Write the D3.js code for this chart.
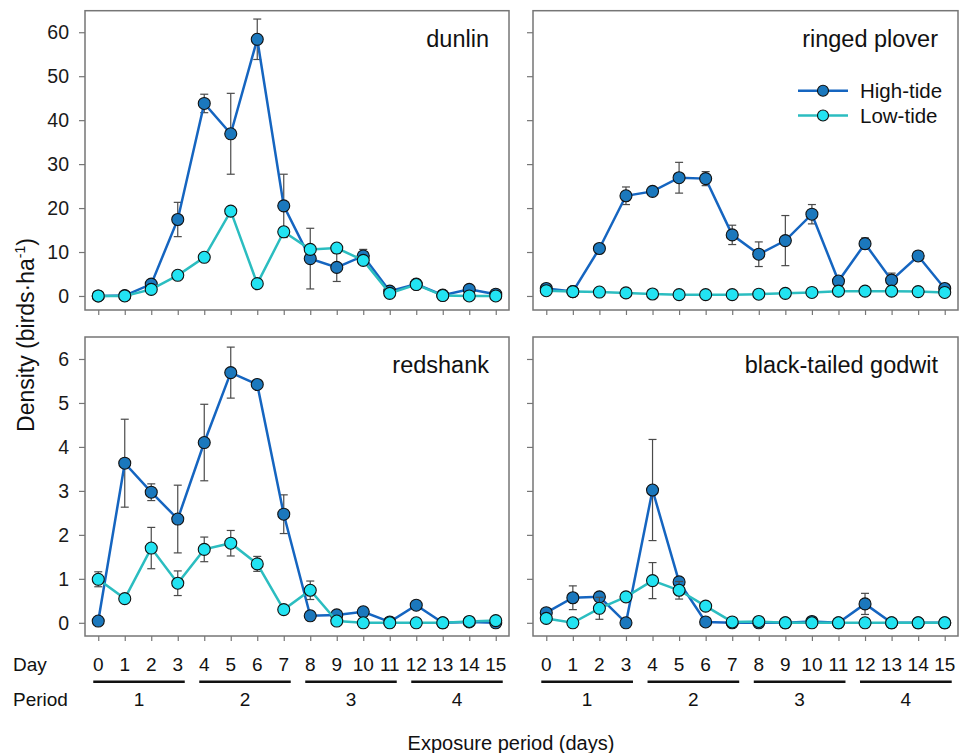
<!DOCTYPE html>
<html>
<head>
<meta charset="utf-8">
<script src="https://cdn.jsdelivr.net/npm/d3@7"></script>
<style>
  body { margin: 0; background: #fff; }
  svg { font-family: Arial, "Liberation Sans", sans-serif; }
</style>
</head>
<body>
<div id="chart"></div>
<script>
// exposure days and periods
const days = [0, 1, 2, 3, 4, 5, 6, 7, 8, 9, 10, 11, 12, 13, 14, 15];
const periodLabels = ["1", "2", "3", "4"];
const periodStart = [0, 4, 8, 12];
const periodEnd = [3, 7, 11, 15];

// dunlin
const dunlinHigh = [0, 0.1, 2.7, 17.4, 43.8, 36.9, 58.4, 20.5, 8.5, 6.5, 9.1, 1.1, 2.7, 0.2, 1.5, 0.4];
const dunlinHighErr = [0, 0, 0.5, 3.9, 2.1, 9.2, 4.6, 7.2, 6.9, 3.2, 1.5, 0.5, 0, 0, 0, 0];
const dunlinLow = [0, 0, 1.5, 4.7, 8.8, 19.3, 2.8, 14.6, 10.6, 10.9, 8.1, 0.6, 2.6, 0.1, 0, 0];
const dunlinLowErr = [0, 0, 0, 0, 0, 0, 0, 1.0, 0, 0, 0, 0, 0, 0, 0, 0];

// ringed plover
const ploverHigh = [1.7, 1.0, 10.8, 22.8, 23.8, 26.9, 26.7, 13.9, 9.5, 12.6, 18.6, 3.4, 11.9, 3.6, 9.1, 1.7];
const ploverHighErr = [0.8, 0, 0, 2.0, 0, 3.5, 1.6, 2.2, 2.8, 5.7, 2.2, 0, 1.3, 1.6, 0, 0];
const ploverLow = [1.2, 1.0, 0.9, 0.7, 0.45, 0.3, 0.3, 0.3, 0.4, 0.6, 0.8, 1.1, 1.1, 1.1, 1.0, 0.8];
const ploverLowErr = [0, 0, 0, 0, 0, 0, 0, 0, 0, 0, 0, 0, 0, 0, 0, 0];

// redshank
const redshankHigh = [0.04, 3.63, 2.97, 2.36, 4.10, 5.69, 5.42, 2.47, 0.16, 0.18, 0.25, 0.02, 0.40, 0, 0.02, 0];
const redshankHighErr = [0, 1.0, 0.19, 0.77, 0.87, 0.58, 0, 0.44, 0.1, 0, 0.1, 0, 0.06, 0, 0, 0];
const redshankLow = [0.99, 0.55, 1.70, 0.90, 1.67, 1.81, 1.34, 0.30, 0.74, 0.04, 0, 0, 0, 0, 0.03, 0.05];
const redshankLowErr = [0.17, 0, 0.47, 0.28, 0.28, 0.29, 0.17, 0, 0.21, 0, 0, 0, 0, 0, 0, 0];

// black-tailed godwit
const godwitHigh = [0.23, 0.57, 0.59, 0, 3.02, 0.93, 0.02, 0, 0, 0, 0.03, 0, 0.43, 0, 0, 0];
const godwitHighErr = [0, 0.27, 0.05, 0, 1.15, 0.1, 0, 0, 0, 0, 0, 0, 0.24, 0, 0, 0];
const godwitLow = [0.10, 0, 0.33, 0.59, 0.96, 0.74, 0.38, 0.02, 0.03, 0, 0, 0, 0, 0, 0, 0];
const godwitLowErr = [0, 0, 0.25, 0, 0.41, 0.2, 0, 0, 0, 0, 0, 0, 0, 0, 0, 0];

const topTicks = [0, 10, 20, 30, 40, 50, 60];
const bottomTicks = [0, 1, 2, 3, 4, 5, 6];

const seriesNames = ["High-tide", "Low-tide"];

const colors = {
    highLine: "#1565c0", highFill: "#1b78bd",
    lowLine: "#2bbdc0", lowFill: "#22e3f2"
};

const width = 960, height = 753;

const svg = d3.select("#chart").append("svg")
    .attr("width", width)
    .attr("height", height);

const colX = [[85, 509], [533, 958]];
const rowY = [[10.7, 310], [337, 636]];

const rows = [
    {domain: [-3.19, 64.9], ticks: topTicks},
    {domain: [-0.30, 6.5], ticks: bottomTicks}
];

const panels = [
    {name: "dunlin", col: 0, row: 0, high: dunlinHigh, highErr: dunlinHighErr, low: dunlinLow, lowErr: dunlinLowErr},
    {name: "ringed plover", col: 1, row: 0, high: ploverHigh, highErr: ploverHighErr, low: ploverLow, lowErr: ploverLowErr, legend: true},
    {name: "redshank", col: 0, row: 1, high: redshankHigh, highErr: redshankHighErr, low: redshankLow, lowErr: redshankLowErr},
    {name: "black-tailed godwit", col: 1, row: 1, high: godwitHigh, highErr: godwitHighErr, low: godwitLow, lowErr: godwitLowErr}
];

const xScales = colX.map(r => d3.scaleLinear().domain([-0.5, 15.5]).range(r));
const yScales = rows.map((r, i) => d3.scaleLinear().domain(r.domain).range([rowY[i][1], rowY[i][0]]));

const frameColor = "#767676";

panels.forEach(p => {
    const x = xScales[p.col];
    const y = yScales[p.row];
    const g = svg.append("g");

    // y axis
    const yAxis = g.append("g")
        .attr("transform", `translate(${colX[p.col][0]},0)`)
        .call(d3.axisLeft(y).tickValues(rows[p.row].ticks).tickSizeInner(6).tickSizeOuter(0).tickPadding(10)
            .tickFormat(p.col === 0 ? d3.format("d") : () => ""));
    yAxis.select(".domain").remove();
    yAxis.selectAll(".tick line").attr("stroke", frameColor).attr("stroke-width", 1.2);
    yAxis.selectAll(".tick text").attr("font-size", "19.5px").attr("fill", "#1a1a1a")
        .attr("font-family", "Arial, 'Liberation Sans', sans-serif");

    // x axis (ticks only)
    const xAxis = g.append("g")
        .attr("transform", `translate(0,${rowY[p.row][1]})`)
        .call(d3.axisBottom(x).tickValues(days).tickSizeInner(5).tickSizeOuter(0).tickFormat(() => ""));
    xAxis.select(".domain").remove();
    xAxis.selectAll(".tick line").attr("stroke", frameColor).attr("stroke-width", 1.2);

    // frame
    g.append("rect")
        .attr("x", colX[p.col][0])
        .attr("y", rowY[p.row][0])
        .attr("width", colX[p.col][1] - colX[p.col][0])
        .attr("height", rowY[p.row][1] - rowY[p.row][0])
        .attr("fill", "none")
        .attr("stroke", frameColor)
        .attr("stroke-width", 1.5);

    // title
    g.append("text")
        .attr("x", colX[p.col][1] - 20)
        .attr("y", rowY[p.row][0] + 36)
        .attr("text-anchor", "end")
        .attr("font-size", "23.5px")
        .attr("fill", "#111")
        .text(p.name);

    const line = d3.line()
        .x((d, i) => x(days[i]))
        .y(d => y(d));

    const series = [
        {vals: p.high, err: p.highErr, stroke: colors.highLine, fill: colors.highFill},
        {vals: p.low, err: p.lowErr, stroke: colors.lowLine, fill: colors.lowFill}
    ];

    series.forEach(s => {
        const pts = s.vals.map((v, i) => ({day: days[i], v: v, e: s.err[i]}));

        // error bars
        const eb = g.append("g").attr("stroke", "#4a4a4a").attr("stroke-width", 1.2);
        pts.filter(d => d.e > 0).forEach(d => {
            const cx = x(d.day);
            eb.append("line").attr("x1", cx).attr("x2", cx).attr("y1", y(d.v - d.e)).attr("y2", y(d.v + d.e));
            eb.append("line").attr("x1", cx - 4).attr("x2", cx + 4).attr("y1", y(d.v - d.e)).attr("y2", y(d.v - d.e));
            eb.append("line").attr("x1", cx - 4).attr("x2", cx + 4).attr("y1", y(d.v + d.e)).attr("y2", y(d.v + d.e));
        });

        g.append("path")
            .datum(s.vals)
            .attr("d", line)
            .attr("fill", "none")
            .attr("stroke", s.stroke)
            .attr("stroke-width", 2.5);

        g.selectAll(null)
            .data(pts)
            .enter()
            .append("circle")
            .attr("cx", d => x(d.day))
            .attr("cy", d => y(d.v))
            .attr("r", 6)
            .attr("fill", s.fill)
            .attr("stroke", "#111")
            .attr("stroke-width", 1.1);
    });

    // legend
    if (p.legend) {
        const lg = g.append("g");
        const legendRows = [
            {name: seriesNames[0], stroke: colors.highLine, fill: colors.highFill, y: 90.7},
            {name: seriesNames[1], stroke: colors.lowLine, fill: colors.lowFill, y: 115.5}
        ];
        legendRows.forEach(r => {
            lg.append("line").attr("x1", 798).attr("x2", 848).attr("y1", r.y).attr("y2", r.y)
                .attr("stroke", r.stroke).attr("stroke-width", 2.5);
            lg.append("circle").attr("cx", 823).attr("cy", r.y).attr("r", 5.5)
                .attr("fill", r.fill).attr("stroke", "#111").attr("stroke-width", 1.1);
            lg.append("text").attr("x", 860).attr("y", r.y + 7)
                .attr("font-size", "20.5px").attr("fill", "#111").text(r.name);
        });
    }
});

// Day labels and period bars below the bottom row
[0, 1].forEach(col => {
    const x = xScales[col];
    const g = svg.append("g");
    g.selectAll(null)
        .data(days)
        .enter()
        .append("text")
        .attr("x", d => x(d))
        .attr("y", 670.5)
        .attr("text-anchor", "middle")
        .attr("font-size", "19px")
        .attr("fill", "#111")
        .text(d => d);

    periodLabels.forEach((lab, i) => {
        const x1 = x(periodStart[i]) - 5;
        const x2 = x(periodEnd[i]) + 7;
        g.append("line").attr("x1", x1).attr("x2", x2).attr("y1", 681.7).attr("y2", 681.7)
            .attr("stroke", "#111").attr("stroke-width", 2.5);
        g.append("text")
            .attr("x", (x1 + x2) / 2)
            .attr("y", 706)
            .attr("text-anchor", "middle")
            .attr("font-size", "19px")
            .attr("fill", "#111")
            .text(lab);
    });
});

svg.append("text").attr("x", 13).attr("y", 670.5).attr("font-size", "19px").attr("fill", "#111").text("Day");
svg.append("text").attr("x", 13).attr("y", 706).attr("font-size", "19px").attr("fill", "#111").text("Period");

svg.append("text")
    .attr("x", 511)
    .attr("y", 750)
    .attr("text-anchor", "middle")
    .attr("font-size", "20px")
    .attr("fill", "#111")
    .text("Exposure period (days)");

const yLab = svg.append("text")
    .attr("transform", "translate(34,335) rotate(-90)")
    .attr("text-anchor", "middle")
    .attr("font-size", "23px")
    .attr("fill", "#111");
yLab.append("tspan").text("Density (birds·ha");
yLab.append("tspan").attr("font-size", "14px").attr("dy", "-9").text("-1");
yLab.append("tspan").attr("dy", "9").text(")");
</script>
</body>
</html>
